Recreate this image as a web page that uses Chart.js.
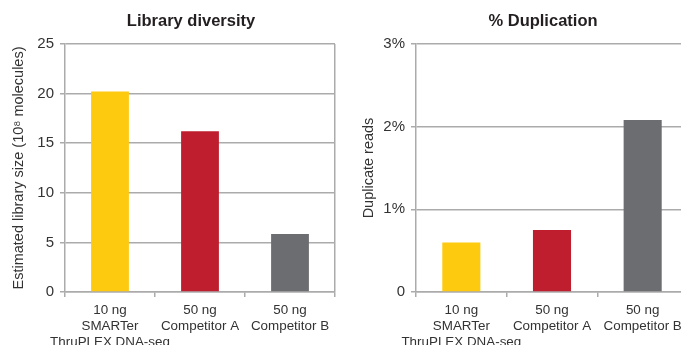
<!DOCTYPE html>
<html>
<head>
<meta charset="utf-8">
<script src="https://cdn.jsdelivr.net/npm/chart.js@4/dist/chart.umd.min.js"></script>
<style>
  html, body { margin: 0; padding: 0; width: 681px; height: 345px; overflow: hidden; background: #fff; }
  canvas { position: absolute; top: 0; }
  #diversity { left: 0; }
  #duplication { left: 340px; }
</style>
</head>
<body>
<canvas id="diversity" width="340" height="345"></canvas>
<canvas id="duplication" width="360" height="345"></canvas>
<script>
// Kits compared, their bar colours and the measured values
const categories = [
  ['10 ng', 'SMARTer', 'ThruPLEX DNA-seq'],
  ['50 ng', 'Competitor A'],
  ['50 ng', 'Competitor B']
];
const barColors = ['#FDCA10', '#BE1E2D', '#6C6D71'];
const librarySize = [20.2, 16.2, 5.85];      // 10^8 molecules
const duplicateReads = [0.60, 0.75, 2.08];   // percent
const librarySizeTicks = [0, 5, 10, 15, 20, 25];
const duplicateTicks = [0, 1, 2, 3];

const FONT = '"Liberation Sans", Arial, Helvetica, sans-serif';
const GRID = '#ABABAB';
const TEXT = '#333333';

// Centre the chart title a little left of the plot centre, over the axis labels
const titleOverAxis = {
  id: 'titleOverAxis',
  afterLayout(chart) {
    const t = chart.titleBlock;
    if (!t) return;
    t.left = chart.chartArea.left - 18;
    t.right = chart.chartArea.right;
  }
};

function barChart(id, cfg) {
  return new Chart(document.getElementById(id), {
    type: 'bar',
    plugins: [titleOverAxis],
    data: {
      labels: categories,
      datasets: [{
        data: cfg.values,
        backgroundColor: barColors,
        barPercentage: 0.42,
        categoryPercentage: 1
      }]
    },
    options: {
      responsive: false,
      animation: false,
      devicePixelRatio: 1,
      layout: { padding: { left: 0, right: cfg.padRight, top: 0, bottom: 0 } },
      plugins: {
        legend: { display: false },
        tooltip: { enabled: false },
        title: {
          display: true,
          text: cfg.title,
          color: '#231F20',
          font: { family: FONT, size: 16.5, weight: 'bold' },
          padding: { top: 12, bottom: 12.2 }
        }
      },
      scales: {
        x: {
          afterFit: s => { s.height = 53; },
          grid: {
            offset: true,
            drawOnChartArea: true,
            // only the closing boundary line is drawn across the plot
            color: ctx => ctx.type === 'tick' ? 'rgba(0,0,0,0)' : GRID,
            tickColor: GRID,
            tickLength: 5,
            lineWidth: 1.5
          },
          border: { display: true, color: GRID, width: 1.5 },
          ticks: {
            color: TEXT,
            font: { family: FONT, size: 13.4, lineHeight: 1.2 },
            padding: 5,
            maxRotation: 0,
            autoSkip: false
          }
        },
        y: {
          min: 0,
          max: cfg.max,
          afterFit: s => { s.width = cfg.axisWidth; },
          afterBuildTicks: s => { s.ticks = cfg.ticks.map(v => ({ value: v })); },
          grid: { color: GRID, tickColor: GRID, tickLength: 5, lineWidth: 1.5 },
          border: { display: true, color: GRID, width: 1.5 },
          ticks: {
            color: TEXT,
            font: { family: FONT, size: 15 },
            padding: 6,
            callback: cfg.format
          },
          title: {
            display: true,
            text: cfg.axisTitle,
            color: TEXT,
            font: { family: FONT, size: 14.5 },
            padding: { top: cfg.axisTitlePad, bottom: 0 }
          }
        }
      }
    }
  });
}

barChart('diversity', {
  values: librarySize,
  title: 'Library diversity',
  max: 25,
  ticks: librarySizeTicks,
  format: v => String(v),
  axisWidth: 65,
  padRight: 5,
  axisTitle: 'Estimated library size (10\u2078 molecules)',
  axisTitlePad: 10
});

barChart('duplication', {
  values: duplicateReads,
  title: '% Duplication',
  max: 3,
  ticks: duplicateTicks,
  format: v => v === 0 ? '0' : v + '%',
  axisWidth: 76,
  padRight: 12,
  axisTitle: 'Duplicate reads',
  axisTitlePad: 20
});
</script>
</body>
</html>
